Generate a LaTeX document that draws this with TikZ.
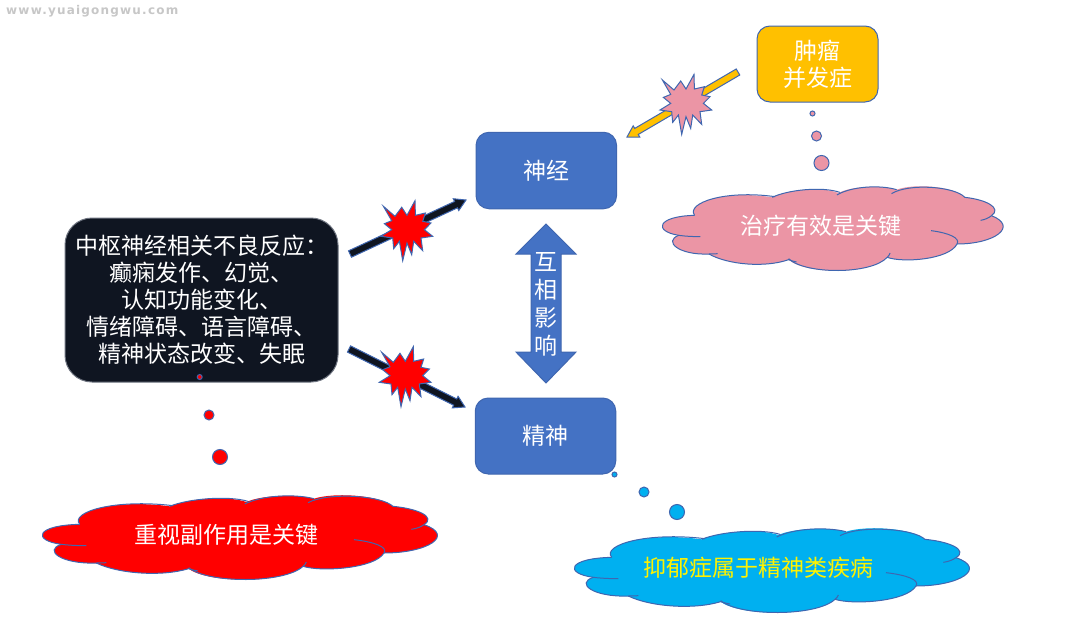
\documentclass[tikz,border=0pt]{standalone}
\usepackage{fontspec}
\setmainfont{Noto Sans CJK SC}
\newfontfamily\wmfont[LetterSpace=10]{DejaVu Sans}
\usetikzlibrary{calc}
\definecolor{edgeblue}{HTML}{3F66B0}
\definecolor{fillblue}{HTML}{4472C4}
\definecolor{amber}{HTML}{FFC000}
\definecolor{rosepink}{HTML}{EB95A5}
\definecolor{skyblue}{HTML}{00B0F0}
\definecolor{nightblack}{HTML}{0F1521}
\definecolor{nightedge}{HTML}{6E7480}
\tikzset{
  lbl/.style={font=\fontsize{23}{27}\selectfont,text=white,align=center,inner sep=0pt},
  boxnode/.style={draw=edgeblue,line width=1pt,rounded corners=13pt,fill=fillblue,inner sep=0pt},
  bubble/.style={circle,draw=edgeblue,line width=1pt,inner sep=0pt},
  cloudline/.style={draw=edgeblue,line width=1pt},
  burstline/.style={draw=edgeblue,line width=1pt,line join=miter},
}
% cloud outline, drawn in the coordinates of a 3x grid
\newcommand{\cloudoutline}[4]{%
  \begin{scope}[shift={(#1,#2)},xscale=#3/3,yscale=1/3]
    \fill[#4] (155,292)
      .. controls (125,255) and (260,215) .. (425,238)
      .. controls (480,215) and (600,205) .. (655,225)
      .. controls (700,205) and (800,200) .. (858,215)
      .. controls (920,195) and (1060,205) .. (1095,238)
      .. controls (1170,245) and (1225,270) .. (1188,293)
      .. controls (1282,325) and (1200,378) .. (1068,378)
      .. controls (1040,425) and (880,435) .. (825,418)
      .. controls (770,470) and (540,470) .. (482,425)
      .. controls (400,450) and (270,440) .. (205,408)
      .. controls (100,412) and (45,370) .. (100,352)
      .. controls (12,340) and (22,295) .. (155,292) -- cycle;
    \draw[cloudline] (155,292)
      .. controls (125,255) and (260,215) .. (435,236);
    \draw[cloudline] (425,238)
      .. controls (480,215) and (600,205) .. (660,223);
    \draw[cloudline] (650,231)
      .. controls (700,205) and (800,200) .. (858,215);
    \draw[cloudline] (840,227)
      .. controls (900,195) and (1060,205) .. (1095,238)
      .. controls (1170,245) and (1225,270) .. (1188,293);
    \draw[cloudline] (1150,307) .. controls (1165,305) and (1178,300) .. (1188,293)
      .. controls (1282,325) and (1200,378) .. (1068,378);
    \draw[cloudline] (978,338) .. controls (1040,345) and (1080,360) .. (1068,378)
      .. controls (1040,425) and (880,435) .. (825,418);
    \draw[cloudline] (835,405) .. controls (833,410) and (830,415) .. (825,418)
      .. controls (770,470) and (540,470) .. (482,422);
    \draw[cloudline] (510,432) .. controls (500,430) and (490,428) .. (482,425)
      .. controls (400,450) and (270,440) .. (205,408);
    \draw[cloudline] (235,407) .. controls (225,408) and (215,408) .. (205,408)
      .. controls (100,412) and (45,370) .. (100,352);
    \draw[cloudline] (175,356) .. controls (150,356) and (125,355) .. (100,352)
      .. controls (12,340) and (22,295) .. (155,292);
  \end{scope}}
% block arrow from #1 to #2
\newcommand{\blockarrow}[2]{%
  \coordinate (hb) at ($(#2)!11pt!(#1)$);
  \draw[line width=1pt,draw=edgeblue,fill=\arrowfill,line join=miter]
    ($(#1)!3.5pt!90:(#2)$) -- ($(hb)!3.5pt!90:(#2)$) -- ($(hb)!6.5pt!90:(#2)$) -- (#2)
    -- ($(hb)!6.5pt!-90:(#2)$) -- ($(hb)!3.5pt!-90:(#2)$) -- ($(#1)!3.5pt!-90:(#2)$) -- cycle;}
\newcommand{\arrowfill}{nightblack}
\newcommand{\burst}[3]{%
  \draw[burstline,fill=#3,shift={(#1,#2)}]
    (-24.3,-26.7) -- (-12.7,-16.7) -- (-6,-25.7) -- (-0.7,-17.7) -- (7.3,-32.3) -- (7.7,-17.7)
    -- (17.7,-20) -- (15,-11.7) -- (23.3,-10) -- (16.7,-3.3) -- (25,3.3) -- (13.3,5)
    -- (15,17.7) -- (6,8.3) -- (4,21.7) -- (-0.7,10) -- (-5,27.7) -- (-8.3,8.3)
    -- (-14,15.7) -- (-15,5) -- (-26.7,3.3) -- (-16,-3.3) -- (-23.3,-9.3) -- (-16,-12.3) -- cycle;}
\begin{document}
\begin{tikzpicture}[x=1pt,y=-1pt]
\useasboundingbox (0,0) rectangle (1080,632);
\fill[white] (0,0) rectangle (1080,632);
% watermark
\node[anchor=west,inner sep=0pt,text=black!22,font=\wmfont\bfseries\fontsize{12}{14}\selectfont] (wm) at (6,11) {www.yuaigongwu.com};
% clouds
\cloudoutline{650}{118}{0.8625}{rosepink}
\cloudoutline{28}{427}{1}{red}
\cloudoutline{560}{460}{1}{skyblue}
\node[lbl] (ct1) at (821,226) {治疗有效是关键};
\node[lbl] (ct2) at (226,535) {重视副作用是关键};
\node[lbl,text=yellow] (ct3) at (758,568) {抑郁症属于精神类疾病};
% boxes
\node[boxnode,minimum width=140.5pt,minimum height=76.5pt,lbl] (shen) at (546.3,170.5) {神经};
\node[boxnode,minimum width=140.5pt,minimum height=76pt,lbl] (jing) at (545.5,436) {精神};
\node[boxnode,fill=amber,minimum width=121pt,minimum height=76pt,lbl] (tumor) at (817.5,64) {肿瘤\\并发症};
\node[boxnode,draw=nightedge,fill=nightblack,rounded corners=27pt,minimum width=273pt,minimum height=164pt,lbl] (cns) at (201.5,300)
  {中枢神经相关不良反应：\\癫痫发作、幻觉、\\认知功能变化、\\情绪障碍、语言障碍、\\精神状态改变、失眠};
% bubbles
\node[bubble,fill=rosepink,minimum size=5pt] (p1) at (812.5,113.5) {};
\node[bubble,fill=rosepink,minimum size=10pt] (p2) at (816.5,136) {};
\node[bubble,fill=rosepink,minimum size=15pt] (p3) at (821.5,163) {};
\node[bubble,fill=red,minimum size=5pt] (r1) at (199.7,377) {};
\node[bubble,fill=red,minimum size=10pt] (r2) at (209,415) {};
\node[bubble,fill=red,minimum size=15pt] (r3) at (220,457) {};
\node[bubble,fill=skyblue,minimum size=5pt] (b1) at (614.5,474.5) {};
\node[bubble,fill=skyblue,minimum size=10pt] (b2) at (644,492) {};
\node[bubble,fill=skyblue,minimum size=15pt] (b3) at (677,512) {};
% arrows
\coordinate (a1s) at (350,254); \coordinate (a1e) at (466,200);
\coordinate (a2s) at (349,349); \coordinate (a2e) at (465,407);
\coordinate (a3s) at (738,72);  \coordinate (a3e) at (627,137);
\blockarrow{a1s}{a1e}
\blockarrow{a2s}{a2e}
\renewcommand{\arrowfill}{amber}
\blockarrow{a3s}{a3e}
\burst{407.7}{233}{red}
\burst{406}{379}{red}
\burst{686.7}{106.7}{rosepink}
% double arrow
\draw[line width=1pt,draw=edgeblue,fill=fillblue,line join=miter]
  (546,224) -- (576,254) -- (561,254) -- (561,352) -- (576,352) -- (546,383)
  -- (516,352) -- (531,352) -- (531,254) -- (516,254) -- cycle;
\node[lbl,font=\fontsize{23}{28}\selectfont] (mut) at (546,304) {互\\相\\影\\响};
\end{tikzpicture}
\end{document}
